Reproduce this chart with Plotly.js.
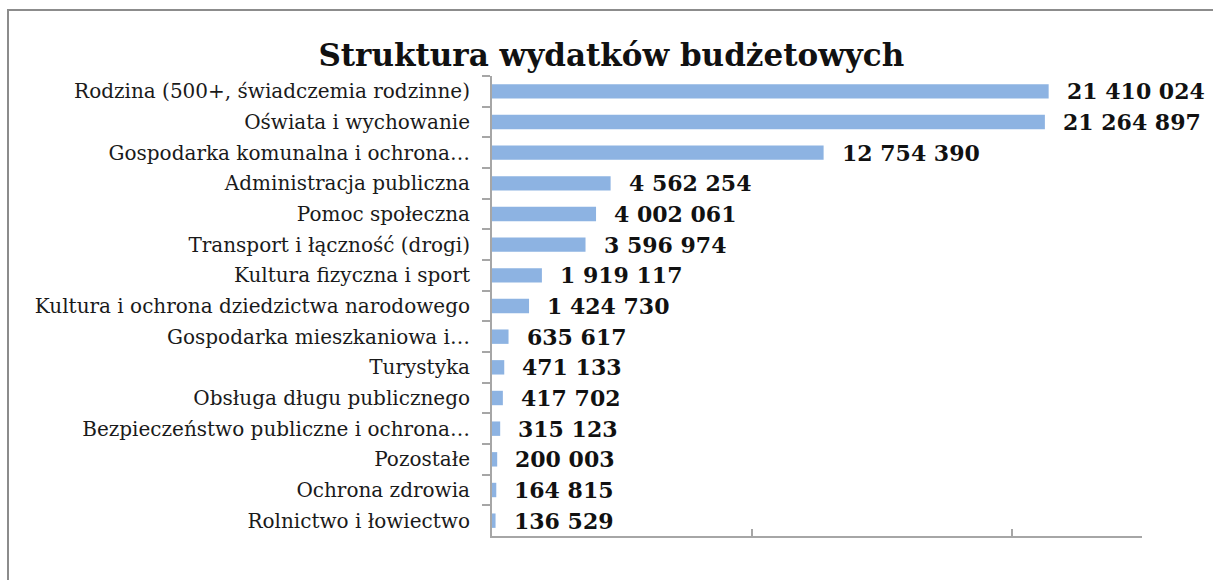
<!DOCTYPE html>
<html><head><meta charset="utf-8">
<script src="https://cdn.plot.ly/plotly-3.0.1.min.js"></script>
<style>
html,body{margin:0;padding:0;background:#fff;overflow:hidden;width:1213px;height:580px;}
#chart{width:1213px;height:580px;position:absolute;left:0;top:0;}
#frame{position:absolute;left:7px;top:9px;width:1300px;height:700px;border:2px solid #8c8c8c;pointer-events:none;}
</style></head>
<body>
<div id="chart"></div>
<div id="frame"></div>
<script>
const categories = [
  "Rodzina (500+, świadczemia rodzinne)",
  "Oświata i wychowanie",
  "Gospodarka komunalna i ochrona…",
  "Administracja publiczna",
  "Pomoc społeczna",
  "Transport i łączność (drogi)",
  "Kultura fizyczna i sport",
  "Kultura i ochrona dziedzictwa narodowego",
  "Gospodarka mieszkaniowa i…",
  "Turystyka",
  "Obsługa długu publicznego",
  "Bezpieczeństwo publiczne i ochrona…",
  "Pozostałe",
  "Ochrona zdrowia",
  "Rolnictwo i łowiectwo"
];
const values = [21410024, 21264897, 12754390, 4562254, 4002061, 3596974, 1919117, 1424730, 635617, 471133, 417702, 315123, 200003, 164815, 136529];
const valueLabels = ["21 410 024","21 264 897","12 754 390","4 562 254","4 002 061","3 596 974","1 919 117","1 424 730","635 617","471 133","417 702","315 123","200 003","164 815","136 529"];
const titleText = "Struktura wydatków budżetowych";

const serif = "DejaVu Serif, Liberation Serif, serif";

const trace = {
  type: "bar",
  orientation: "h",
  y: categories,
  x: values,
  marker: {color: "#8db3e2", line: {width: 0}},
  hoverinfo: "none"
};

const annotations = values.map((v, i) => ({
  x: v, y: categories[i], xref: "x", yref: "y",
  text: valueLabels[i], showarrow: false,
  xanchor: "left", yanchor: "middle", xshift: 16,
  font: {family: serif, size: 22, color: "#111", weight: "bold"}
}));

const layout = {
  width: 1213, height: 580,
  margin: {l: 492, r: 71, t: 76, b: 44, pad: 0},
  paper_bgcolor: "#fff", plot_bgcolor: "#fff",
  title: {text: "<b>" + titleText + "</b>", x: 0.504, xanchor: "center", y: 0.905, yanchor: "middle",
          font: {family: serif, size: 31, color: "#111"}},
  bargap: 0.53,
  showlegend: false,
  xaxis: {
    range: [0, 25000000], showgrid: false, zeroline: false,
    showline: true, linecolor: "#a6a6a6", linewidth: 2,
    ticks: "inside", tickvals: [10000000, 20000000], ticklen: 7, tickcolor: "#a6a6a6", tickwidth: 2,
    showticklabels: false, fixedrange: true
  },
  yaxis: {
    autorange: "reversed", type: "category",
    showgrid: false, zeroline: false,
    showline: true, linecolor: "#a6a6a6", linewidth: 2,
    ticks: "outside", tickson: "boundaries", ticklen: 8, tickcolor: "#a6a6a6", tickwidth: 2,
    ticklabelstandoff: 16,
    tickfont: {family: serif, size: 20, color: "#1a1a1a"},
    fixedrange: true
  },
  annotations: annotations
};

Plotly.newPlot("chart", [trace], layout, {displayModeBar: false, staticPlot: true});
</script>
</body></html>
